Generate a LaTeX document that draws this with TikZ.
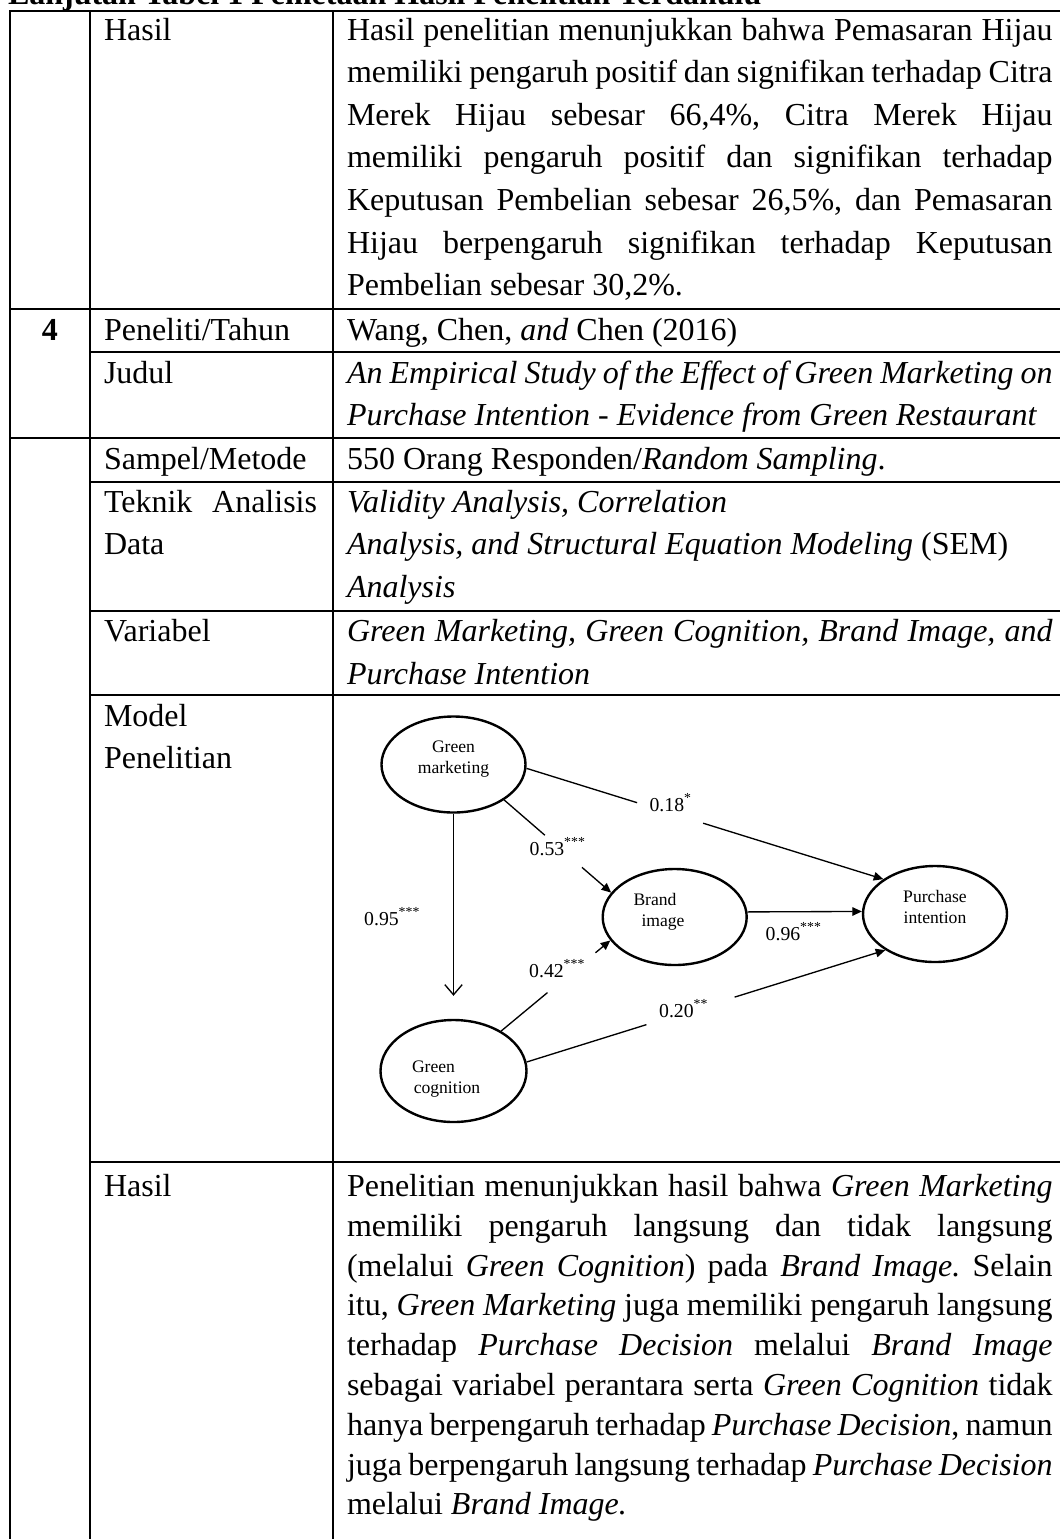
\documentclass[tikz,border=0pt]{standalone}
\usepackage{fontspec}
\setmainfont{Liberation Serif}
\usetikzlibrary{arrows.meta,calc,shapes.geometric}

% width of a full justified line in the right-hand column, and in the middle column
\newlength\colw \setlength\colw{264.6pt}
\newlength\midw \setlength\midw{79.9pt}
\newcommand\jl[1]{\makebox[\colw][s]{#1}}
\frenchspacing

\begin{document}
\begin{tikzpicture}[x=0.375pt,y=-0.375pt,
  grid/.style={line width=1pt,line cap=rect},
  txt/.style={anchor=base west,inner sep=0pt,outer sep=0pt,font=\fontsize{12}{14}\selectfont},
  var/.style={ellipse,draw,line width=0.9pt,inner sep=0pt,minimum width=54pt,minimum height=36pt},
  vt/.style={anchor=base,inner sep=0pt,font=\fontsize{6.6}{7.9}\selectfont},
  lab/.style={anchor=base,inner sep=0pt,font=\fontsize{7.4}{8}\selectfont},
  conn/.style={line width=0.5pt},
  tip/.style={-{Triangle[length=3.6pt,width=3.2pt]}},
  vtip/.style={-{Straight Barb[length=3.8pt,width=6.5pt]}}]
\useasboundingbox (0,0) rectangle (1060,1539);
\clip (0,0) rectangle (1060,1539);

% ---------- caption running above the table ----------
\node[txt,font=\fontsize{12}{14}\selectfont\bfseries] (head) at (8,4.5)
  {Lanjutan Tabel 1 Pemetaan Hasil Penelitian Terdahulu};

% ---------- table rules ----------
\draw[grid] (10,11) -- (1070,11);
\draw[grid] (10,11) -- (10,1550);
\draw[grid] (90,11) -- (90,1550);
\draw[grid] (333,11) -- (333,1550);
\draw[grid] (10,309) -- (1070,309);
\draw[grid] (90,352) -- (1070,352);
\draw[grid] (10,438) -- (1070,438);
\draw[grid] (90,482) -- (1070,482);
\draw[grid] (90,611) -- (1070,611);
\draw[grid] (90,695) -- (1070,695);
\draw[grid] (90,1162) -- (1070,1162);

% ---------- row: Hasil (previous study) ----------
\node[txt] (h0) at (104,40) {Hasil};
\node[txt] (h1) at (347,40.0) {\jl{Hasil penelitian menunjukkan bahwa Pemasaran Hijau}};
\node[txt] (h2) at (347,82.6) {\jl{memiliki pengaruh positif dan signifikan terhadap Citra}};
\node[txt] (h3) at (347,125.2) {\jl{Merek Hijau sebesar 66,4\%, Citra Merek Hijau}};
\node[txt] (h4) at (347,167.8) {\jl{memiliki pengaruh positif dan signifikan terhadap}};
\node[txt] (h5) at (347,210.4) {\jl{Keputusan Pembelian sebesar 26,5\%, dan Pemasaran}};
\node[txt] (h6) at (347,253.0) {\jl{Hijau berpengaruh signifikan terhadap Keputusan}};
\node[txt] (h7) at (347,295.6) {Pembelian sebesar 30,2\%.};

% ---------- study 4 ----------
\node[anchor=base,inner sep=0pt,font=\fontsize{12}{14}\selectfont\bfseries] (no4) at (50,340) {4};
\node[txt] (p0) at (104,340) {Peneliti/Tahun};
\node[txt] (p1) at (347,340) {Wang, Chen, \textit{and} Chen (2016)};

\node[txt] (j0) at (104,383) {Judul};
\node[txt] (j1) at (347,383) {\jl{\itshape An Empirical Study of the Effect of Green Marketing on}};
\node[txt] (j2) at (347,425) {\itshape Purchase Intention - Evidence from Green Restaurant};

\node[txt] (s0) at (104,469.5) {Sampel/Metode};
\node[txt] (s1) at (347,469.5) {550 Orang Responden/\textit{Random Sampling}.};

\node[txt] (t0) at (104,512) {\makebox[\midw][s]{Teknik Analisis}};
\node[txt] (t0b) at (104,554.5) {Data};
\node[txt] (t1) at (347,512) {\itshape Validity Analysis, Correlation};
\node[txt] (t2) at (347,554.5) {\textit{Analysis, and Structural Equation Modeling} (SEM)};
\node[txt] (t3) at (347,597) {\itshape Analysis};

\node[txt] (v0) at (104,641.5) {Variabel};
\node[txt] (v1) at (347,641.5) {\jl{\itshape Green Marketing, Green Cognition, Brand Image, and}};
\node[txt] (v2) at (347,684) {\itshape Purchase Intention};

\node[txt] (m0) at (104,726) {Model};
\node[txt] (m0b) at (104,768.5) {Penelitian};

% ---------- path model ----------
\node[var] (gm) at (453.5,764.5) {};
\node[var] (bi) at (674.7,917) {};
\node[var] (pi) at (935,914) {};
\node[var,minimum width=54.75pt,minimum height=38.25pt] (gc) at (453.5,1071) {};

\node[vt] (gm1) at (453.5,752.5) {Green};
\node[vt] (gm2) at (453.5,773.5) {marketing};
\node[vt] (bi1) at (655,905) {Brand};
\node[vt] (bi2) at (663,926) {image};
\node[vt] (pi1) at (935,902.5) {Purchase};
\node[vt] (pi2) at (935,923.5) {intention};
\node[vt] (gc1) at (433.5,1072) {Green};
\node[vt] (gc2) at (447,1093) {cognition};

% green marketing -> purchase intention
\draw[conn] (gm.-3) -- ($(gm.-3)!0.31!(pi.146.5)$);
\draw[conn,tip] ($(gm.-3)!0.495!(pi.146.5)$) -- (pi.146.5);
\node[lab] (l18) at (671,811) {0.18\textsuperscript{*}};

% green marketing -> brand image
\draw[conn] (gm.-35.5) -- ($(gm.-35.5)!0.38!(bi.159)$);
\draw[conn,tip] ($(gm.-35.5)!0.727!(bi.159)$) -- (bi.159);
\node[lab] (l53) at (558,855) {0.53\textsuperscript{***}};

% green marketing -> green cognition
\draw[conn,vtip] (gm.south) -- ($(gc.north)+(0,-23)$);
\node[lab] (l95) at (392.5,925) {0.95\textsuperscript{***}};

% green cognition -> brand image
\draw[conn] (gc.40) -- ($(gc.40)!0.424!(bi.200)$);
\draw[conn,tip] ($(gc.40)!0.864!(bi.200)$) -- (bi.200);
\node[lab] (l42) at (557.5,977) {0.42\textsuperscript{***}};

% green cognition -> purchase intention
\draw[conn] (gc.7) -- ($(gc.7)!0.334!(pi.216)$);
\draw[conn,tip] ($(gc.7)!0.58!(pi.216)$) -- (pi.216);
\node[lab] (l20) at (684,1017) {0.20\textsuperscript{**}};

% brand image -> purchase intention
\draw[conn,tip] (bi.4) -- (pi.178);
\node[lab] (l96) at (794,940) {0.96\textsuperscript{***}};

% ---------- row: Hasil (study 4) ----------
\node[txt] (k0) at (104,1196.5) {Hasil};
\node[txt] (k1) at (347,1196.5) {\jl{Penelitian menunjukkan hasil bahwa \textit{Green Marketing}}};
\node[txt] (k2) at (347,1236.3) {\jl{memiliki pengaruh langsung dan tidak langsung}};
\node[txt] (k3) at (347,1276.1) {\jl{(melalui \textit{Green Cognition}) pada \textit{Brand Image.} Selain}};
\node[txt] (k4) at (347,1315.9) {\jl{itu, \textit{Green Marketing} juga memiliki pengaruh langsung}};
\node[txt] (k5) at (347,1355.7) {\jl{terhadap \textit{Purchase Decision} melalui \textit{Brand Image}}};
\node[txt] (k6) at (347,1395.5) {\jl{sebagai variabel perantara serta \textit{Green Cognition} tidak}};
\node[txt] (k7) at (347,1435.3) {\jl{hanya berpengaruh terhadap \textit{Purchase Decision}, namun}};
\node[txt] (k8) at (347,1475.1) {\jl{juga berpengaruh langsung terhadap \textit{Purchase Decision}}};
\node[txt] (k9) at (347,1514.9) {melalui \textit{Brand Image.}};
\end{tikzpicture}
\end{document}
